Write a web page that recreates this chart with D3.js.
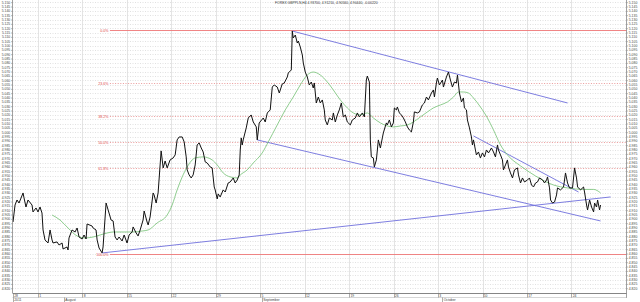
<!DOCTYPE html>
<html>
<head>
<meta charset="utf-8">
<script src="https://cdn.jsdelivr.net/npm/d3@7"></script>
<style>
html, body { margin: 0; padding: 0; background: #fff; }
svg { display: block; font-family: "Liberation Sans", Arial, sans-serif; }
</style>
</head>
<body>
<svg id="chart" width="640" height="302"></svg>
<script>
var TITLE = "FOREX GBPPLN,H4 4.93700, 4.91210, 4.90560, 4.90440, -0.00220";

// [trading days since first bar, price]
var PRICE = [[0,4.8964],[0.23,4.9160],[0.45,4.9218],[0.68,4.9183],[1.13,4.9299],[1.24,4.9242],[1.46,4.9137],[1.69,4.9218],[2.14,4.9160],[2.25,4.9080],[2.59,4.9126],[2.81,4.9080],[3.04,4.9137],[3.26,4.9068],[3.38,4.8872],[3.60,4.8757],[3.94,4.8722],[4.17,4.8872],[4.39,4.8757],[4.50,4.8722],[4.95,4.8734],[5.18,4.8699],[5.52,4.8722],[5.63,4.8653],[6.08,4.8676],[6.19,4.8641],[6.30,4.8780],[6.64,4.8872],[6.98,4.8849],[7.21,4.8895],[7.43,4.8791],[7.77,4.8768],[7.99,4.8814],[8.22,4.8768],[8.33,4.8941],[8.89,4.8918],[9.01,4.8895],[9.34,4.8872],[9.46,4.8757],[9.68,4.8664],[10.02,4.8607],[10.13,4.8676],[10.47,4.9183],[10.70,4.9103],[11.03,4.8987],[11.26,4.8976],[11.48,4.8791],[11.71,4.8757],[11.93,4.8791],[12.27,4.8745],[12.50,4.8814],[12.83,4.8722],[13.06,4.8814],[13.40,4.8849],[13.51,4.8907],[13.85,4.8837],[14.07,4.8803],[14.30,4.8872],[14.63,4.8987],[14.75,4.9091],[15.08,4.8964],[15.20,4.8930],[15.42,4.9022],[15.76,4.9299],[15.87,4.9276],[16.10,4.9183],[16.32,4.9299],[16.66,4.9784],[16.89,4.9588],[17.11,4.9668],[17.34,4.9588],[17.67,4.9680],[18.01,4.9703],[18.24,4.9738],[18.46,4.9911],[18.69,4.9945],[19.03,4.9945],[19.25,4.9888],[19.48,4.9715],[19.59,4.9565],[19.81,4.9507],[20.04,4.9472],[20.26,4.9507],[20.49,4.9622],[20.71,4.9853],[20.94,4.9876],[21.17,4.9818],[21.39,4.9772],[21.62,4.9657],[21.84,4.9645],[22.18,4.9599],[22.40,4.9588],[22.63,4.9368],[22.74,4.9334],[22.97,4.9230],[23.08,4.9288],[23.30,4.9253],[23.64,4.9334],[23.87,4.9310],[24.20,4.9414],[24.43,4.9426],[24.77,4.9472],[24.99,4.9414],[25.22,4.9449],[25.44,4.9507],[25.56,4.9795],[25.67,4.9934],[25.78,4.9853],[25.89,4.9911],[26.23,5.0049],[26.46,5.0164],[26.79,5.0199],[27.02,5.0118],[27.36,5.0061],[27.47,4.9911],[27.69,5.0107],[28.15,5.0164],[28.37,5.0118],[28.60,5.0222],[28.93,5.0257],[29.16,5.0521],[29.38,5.0545],[29.72,5.0521],[29.95,5.0452],[30.28,5.0556],[30.51,5.0568],[30.85,5.0637],[30.96,5.0683],[31.30,5.0718],[31.41,5.1167],[31.52,5.1087],[31.75,5.1121],[31.97,5.1029],[32.09,5.1052],[32.31,5.0983],[32.54,5.0891],[32.65,5.0798],[32.87,5.0694],[33.10,5.0637],[33.32,5.0545],[33.55,5.0579],[33.77,5.0510],[33.89,5.0568],[34.00,5.0452],[34.11,5.0337],[34.34,5.0406],[34.56,5.0337],[34.79,5.0372],[35.01,5.0257],[35.12,5.0141],[35.35,5.0084],[35.58,5.0164],[35.91,5.0141],[36.03,5.0222],[36.25,5.0118],[36.48,5.0199],[36.70,5.0257],[36.93,5.0337],[37.15,5.0176],[37.38,5.0199],[37.60,5.0118],[37.94,5.0084],[38.16,5.0141],[38.50,5.0164],[38.73,5.0222],[38.95,5.0176],[39.29,5.0222],[39.52,5.0176],[39.74,5.0602],[39.85,5.0648],[40.08,5.0579],[40.19,4.9911],[40.30,4.9715],[40.53,4.9703],[40.64,4.9599],[40.87,4.9680],[41.09,4.9911],[41.32,4.9818],[41.54,4.9934],[41.65,4.9991],[41.99,5.0107],[42.10,5.0084],[42.33,5.0141],[42.56,5.0061],[42.78,5.0107],[42.89,5.0280],[43.12,5.0257],[43.23,5.0291],[43.46,5.0222],[43.68,5.0199],[43.91,5.0164],[44.13,5.0118],[44.36,5.0061],[44.58,5.0026],[44.81,5.0003],[45.03,5.0118],[45.14,5.0234],[45.48,5.0222],[45.71,5.0234],[46.04,5.0314],[46.27,5.0337],[46.50,5.0406],[46.72,5.0372],[47.06,5.0452],[47.28,5.0487],[47.40,5.0406],[47.62,5.0568],[47.73,5.0625],[47.96,5.0545],[48.30,5.0602],[48.41,5.0521],[48.75,5.0637],[48.97,5.0694],[49.20,5.0602],[49.42,5.0521],[49.65,5.0579],[49.87,5.0568],[49.99,5.0660],[50.21,5.0452],[50.44,5.0349],[50.66,5.0395],[50.77,5.0280],[51.00,5.0257],[51.11,5.0141],[51.34,5.0049],[51.56,4.9945],[51.67,4.9853],[51.79,4.9911],[52.01,4.9795],[52.12,4.9738],[52.35,4.9772],[52.57,4.9703],[52.80,4.9761],[53.03,4.9715],[53.25,4.9795],[53.48,4.9761],[53.81,4.9818],[54.04,4.9772],[54.26,4.9715],[54.49,4.9853],[54.60,4.9795],[54.83,4.9738],[55.05,4.9680],[55.16,4.9565],[55.39,4.9622],[55.61,4.9680],[55.73,4.9599],[55.95,4.9530],[56.18,4.9472],[56.40,4.9565],[56.74,4.9588],[56.85,4.9507],[57.08,4.9414],[57.30,4.9472],[57.53,4.9426],[57.87,4.9449],[58.09,4.9472],[58.32,4.9391],[58.54,4.9368],[58.77,4.9414],[58.99,4.9426],[59.22,4.9472],[59.56,4.9449],[59.78,4.9414],[60.01,4.9449],[60.12,4.9484],[60.34,4.9357],[60.46,4.9218],[60.68,4.9183],[60.91,4.9195],[61.13,4.9276],[61.24,4.9357],[61.58,4.9334],[61.92,4.9368],[62.14,4.9530],[62.37,4.9414],[62.59,4.9357],[62.93,4.9357],[63.16,4.9588],[63.38,4.9472],[63.50,4.9368],[63.83,4.9334],[64.17,4.9368],[64.28,4.9310],[64.51,4.9160],[64.62,4.9103],[64.85,4.9218],[65.07,4.9137],[65.30,4.9080],[65.41,4.9183],[65.63,4.9137],[65.75,4.9218],[65.97,4.9103],[66.08,4.9160]];

// moving average
var MA = [[4.39,4.9045],[5.29,4.8987],[6.19,4.8895],[7.21,4.8803],[8.11,4.8780],[9.01,4.8791],[9.79,4.8814],[10.58,4.8837],[11.26,4.8849],[12.38,4.8849],[13.51,4.8849],[14.52,4.8860],[15.20,4.8872],[16.21,4.8953],[17.34,4.9045],[17.90,4.9160],[18.46,4.9334],[19.03,4.9484],[19.59,4.9599],[20.49,4.9703],[21.39,4.9715],[22.40,4.9680],[22.97,4.9622],[23.64,4.9530],[24.43,4.9484],[25.22,4.9472],[25.56,4.9507],[26.34,4.9565],[27.02,4.9645],[28.03,4.9761],[28.71,4.9888],[29.72,5.0084],[30.62,5.0257],[31.52,5.0406],[32.31,5.0545],[33.10,5.0660],[33.77,5.0694],[34.56,5.0660],[35.35,5.0579],[36.03,5.0487],[36.81,5.0372],[37.60,5.0280],[38.28,5.0222],[39.07,5.0199],[39.85,5.0222],[40.53,5.0164],[41.32,5.0107],[42.10,5.0072],[42.78,5.0061],[43.57,5.0072],[44.36,5.0084],[45.03,5.0118],[45.82,5.0176],[46.61,5.0234],[47.28,5.0280],[48.07,5.0314],[48.86,5.0349],[49.54,5.0406],[50.10,5.0464],[50.66,5.0464],[51.22,5.0452],[51.79,5.0395],[52.57,5.0291],[53.36,5.0164],[54.04,5.0026],[54.83,4.9853],[55.61,4.9738],[57.08,4.9611],[58.77,4.9495],[60.79,4.9391],[62.37,4.9357],[64.17,4.9340],[65.30,4.9340],[66.08,4.9300]];

var TRENDLINES = [
    [[31.41,5.1167],[62.37,5.0337]],
    [[27.47,4.9911],[66.08,4.8976]],
    [[10.02,4.8607],[67.21,4.9253]],
    [[51.79,4.9957],[63.61,4.9310]]
];

var FIB_HIGH = 5.1175, FIB_LOW = 4.8600, FIB_START = 10.9;
var FIB_LEVELS = [0, 0.236, 0.382, 0.5, 0.618, 1];
var FIB_LABELS = ["0.0%", "23.6%", "38.2%", "50.0%", "61.8%", "100.0%"];

var DAY_TICKS  = [0, 2.81, 7.81, 12.81, 17.81, 22.81, 27.81, 32.81, 37.81, 42.81, 47.81, 52.81, 57.81, 62.81];
var DAY_LABELS = ["28", "1", "8", "15", "22", "29", "5", "12", "19", "26", "3", "10", "17", "24"];
var MONTH_TICKS  = [0, 5.74, 28.0, 48.3];
var MONTH_LABELS = ["2011", "August", "September", "October"];

var Y_MIN = 4.8145, Y_MAX = 5.1525, Y_STEP = 0.005;

var plotL = 12.5, plotR = 626.5, plotT = 0, plotB = 293;

var svg = d3.select("#chart");
var x = d3.scaleLinear().domain([0, 69.0]).range([plotL + 0.5, plotR]);
var y = d3.scaleLinear().domain([Y_MIN, Y_MAX]).range([plotB, plotT]);

var yTicks = d3.range(4.820, 5.1501, Y_STEP);
var fmt = d3.format(".3f");

// grid
var grid = svg.append("g");
grid.selectAll("line.h").data(yTicks).enter().append("line")
    .attr("x1", plotL).attr("x2", plotR)
    .attr("y1", function (d) { return Math.round(y(d)) + 0.5; })
    .attr("y2", function (d) { return Math.round(y(d)) + 0.5; })
    .style("stroke", "#cdcdcd").style("stroke-width", 0.6)
    .style("stroke-dasharray", "1,1.5");
grid.selectAll("line.v").data(DAY_TICKS.slice(1)).enter().append("line")
    .attr("x1", function (d) { return Math.round(x(d)) + 0.5; })
    .attr("x2", function (d) { return Math.round(x(d)) + 0.5; })
    .attr("y1", plotT).attr("y2", plotB)
    .style("stroke", "#d8d8d8").style("stroke-width", 0.7);

// fibonacci levels
var fib = svg.append("g");
FIB_LEVELS.forEach(function (lv, i) {
    var v = FIB_HIGH - lv * (FIB_HIGH - FIB_LOW);
    var yy = Math.round(y(v)) + 0.5;
    var solid = (lv == 0 || lv == 1);
    fib.append("line")
        .attr("x1", x(FIB_START)).attr("x2", plotR)
        .attr("y1", yy).attr("y2", yy)
        .style("stroke", solid ? "#ee7777" : "#e58080")
        .style("stroke-width", solid ? 0.9 : 0.8)
        .style("stroke-dasharray", solid ? null : "1,1.6");
    fib.append("text")
        .attr("x", x(FIB_START) - 1.5).attr("y", yy + 1.2)
        .attr("text-anchor", "end")
        .style("font-size", "3.6px").style("fill", "#e04848")
        .text(FIB_LABELS[i]);
});

// trend lines
var tl = d3.line().x(function (d) { return x(d[0]); }).y(function (d) { return y(d[1]); });
svg.append("g").selectAll("path").data(TRENDLINES).enter().append("path")
    .attr("d", tl)
    .style("fill", "none").style("stroke", "#6f6fdc").style("stroke-width", 0.9);

// moving average
svg.append("path").datum(MA)
    .attr("d", d3.line().curve(d3.curveMonotoneX).x(function (d) { return x(d[0]); }).y(function (d) { return y(d[1]); }))
    .style("fill", "none").style("stroke", "#72c072").style("stroke-width", 0.8);

// price
svg.append("path").datum(PRICE)
    .attr("d", tl)
    .style("fill", "none").style("stroke", "#111").style("stroke-width", 1.0)
    .style("stroke-linejoin", "miter");

// y axes
var yl = svg.append("g").attr("transform", "translate(" + plotL + ",0)")
    .call(d3.axisLeft(y).tickValues(yTicks).tickSize(1.5).tickPadding(0.8).tickFormat(fmt));
var yr = svg.append("g").attr("transform", "translate(" + plotR + ",0)")
    .call(d3.axisRight(y).tickValues(yTicks).tickSize(1.5).tickPadding(0.8).tickFormat(fmt));
[yl, yr].forEach(function (g) {
    g.select(".domain").remove();
    g.selectAll("line").style("stroke", "#777").style("stroke-width", 0.5);
    g.selectAll("text").style("font-size", "3.4px").style("fill", "#444").style("font-family", "Liberation Sans, Arial, sans-serif");
});
svg.append("line").attr("x1", plotL).attr("x2", plotL).attr("y1", 0).attr("y2", plotB)
    .style("stroke", "#888").style("stroke-width", 0.8);
svg.append("line").attr("x1", plotR).attr("x2", plotR).attr("y1", 0).attr("y2", plotB + 5)
    .style("stroke", "#888").style("stroke-width", 0.8);

// x axis (two rows: days, months)
var xa = svg.append("g");
xa.append("line").attr("x1", plotL).attr("x2", plotR).attr("y1", plotB + 0.5).attr("y2", plotB + 0.5)
    .style("stroke", "#777").style("stroke-width", 0.9);
xa.append("line").attr("x1", plotL).attr("x2", plotR).attr("y1", plotB + 4.5).attr("y2", plotB + 4.5)
    .style("stroke", "#bbb").style("stroke-width", 0.6);
xa.selectAll("line.dt").data(DAY_TICKS).enter().append("line")
    .attr("x1", function (d) { return Math.round(x(d)) + 0.5; })
    .attr("x2", function (d) { return Math.round(x(d)) + 0.5; })
    .attr("y1", plotB).attr("y2", plotB + 4.5)
    .style("stroke", "#777").style("stroke-width", 0.6);
xa.selectAll("text.dl").data(DAY_TICKS).enter().append("text")
    .attr("x", function (d) { return x(d) + 1.2; })
    .attr("y", plotB + 3.8)
    .style("font-size", "3.4px").style("fill", "#444")
    .text(function (d, i) { return DAY_LABELS[i]; });
xa.selectAll("line.mt").data(MONTH_TICKS).enter().append("line")
    .attr("x1", function (d) { return Math.round(x(d)) + 0.5; })
    .attr("x2", function (d) { return Math.round(x(d)) + 0.5; })
    .attr("y1", plotB + 4.5).attr("y2", plotB + 9)
    .style("stroke", "#777").style("stroke-width", 0.6);
xa.selectAll("text.ml").data(MONTH_TICKS).enter().append("text")
    .attr("x", function (d) { return x(d) + 1.2; })
    .attr("y", plotB + 8.3)
    .style("font-size", "3.4px").style("fill", "#444")
    .text(function (d, i) { return MONTH_LABELS[i]; });

// title
svg.append("text").attr("x", 275).attr("y", 4)
    .style("font-size", "3.4px").style("fill", "#333")
    .text(TITLE);
</script>
</body>
</html>
